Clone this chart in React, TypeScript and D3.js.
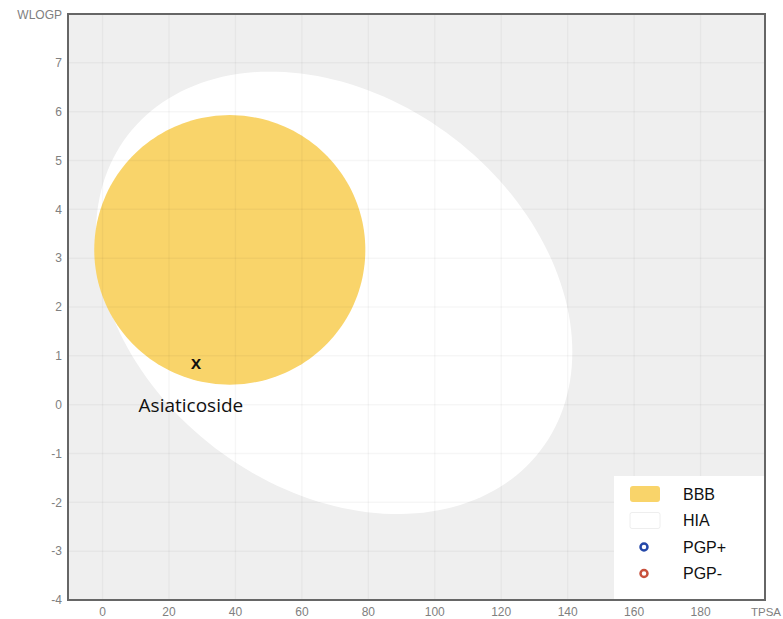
import { useRef, useEffect } from 'react'
import * as d3 from 'd3'

// axis ticks
const xTicks = [0, 20, 40, 60, 80, 100, 120, 140, 160, 180]
const yTicks = [-4, -3, -2, -1, 0, 1, 2, 3, 4, 5, 6, 7]
const xDomain: [number, number] = [-10.4, 199.4]
const yDomain: [number, number] = [-4, 8]

// egg regions: [center TPSA, center WLOGP, half width (TPSA), half height (WLOGP), WLOGP shift at right edge]
const hiaEllipse = [69.7, 2.29, 71.7, 4.53, -1.21]
const bbbEllipse = [38.3, 3.17, 40.8, 2.76, 0]

// compound marked on the plot
const compoundNames = ["Asiaticoside"]
const compoundTpsa = [28.1]
const compoundWlogp = [0.83]

const legendLabels = ["BBB", "HIA", "PGP+", "PGP-"]

function ellipsePoints(e: number[]): [number, number][] {
  const [cx, cy, hw, hh, k] = e
  const m = Math.sqrt(hh * hh - k * k)
  return d3.range(0, 360, 2).map(deg => {
    const t = (deg * Math.PI) / 180
    return [cx + hw * Math.cos(t), cy + k * Math.cos(t) + m * Math.sin(t)] as [number, number]
  })
}

export default function App() {
  const svgRef = useRef<SVGSVGElement>(null)
  const width = 783
  const height = 619
  const margin = { top: 14, right: 18, bottom: 19, left: 68 }

  useEffect(() => {
    if (!svgRef.current) return
    const svg = d3.select(svgRef.current)
    svg.selectAll("*").remove()

    const innerWidth = width - margin.left - margin.right
    const innerHeight = height - margin.top - margin.bottom

    const x = d3.scaleLinear().domain(xDomain).range([0, innerWidth])
    const y = d3.scaleLinear().domain(yDomain).range([innerHeight, 0])

    const g = svg.append("g").attr("transform", `translate(${margin.left},${margin.top})`)

    // plot background
    g.append("rect")
      .attr("width", innerWidth)
      .attr("height", innerHeight)
      .attr("fill", "#efefef")

    const line = d3.line<[number, number]>()
      .x(d => x(d[0]))
      .y(d => y(d[1]))
      .curve(d3.curveLinearClosed)

    // HIA (white) and BBB (yolk)
    g.append("path").attr("d", line(ellipsePoints(hiaEllipse))).attr("fill", "#ffffff")
    g.append("path").attr("d", line(ellipsePoints(bbbEllipse))).attr("fill", "#f9d46a")

    // grid lines on top
    g.append("g")
      .selectAll("line")
      .data(xTicks)
      .enter()
      .append("line")
      .attr("x1", d => x(d))
      .attr("x2", d => x(d))
      .attr("y1", 0)
      .attr("y2", innerHeight)
      .attr("stroke", "#000")
      .attr("stroke-opacity", 0.035)
      .attr("stroke-width", 1.5)

    g.append("g")
      .selectAll("line")
      .data(yTicks)
      .enter()
      .append("line")
      .attr("x1", 0)
      .attr("x2", innerWidth)
      .attr("y1", d => y(d))
      .attr("y2", d => y(d))
      .attr("stroke", "#000")
      .attr("stroke-opacity", 0.035)
      .attr("stroke-width", 1.5)

    // compound marker
    compoundNames.forEach((name, i) => {
      g.append("text")
        .attr("x", x(compoundTpsa[i]))
        .attr("y", y(compoundWlogp[i]))
        .attr("dy", "0.35em")
        .attr("text-anchor", "middle")
        .attr("font-family", "'Open Sans', sans-serif")
        .attr("font-weight", "bold")
        .attr("font-size", 15)
        .attr("fill", "#111")
        .text("X")
      g.append("text")
        .attr("x", x(compoundTpsa[i]) - 5)
        .attr("y", y(compoundWlogp[i]) + 48)
        .attr("text-anchor", "middle")
        .attr("font-family", "'Open Sans', sans-serif")
        .attr("font-size", 19)
        .attr("fill", "#111")
        .text(name)
    })

    // legend
    const legend = g.append("g").attr("transform", `translate(${innerWidth - 151},${innerHeight - 124})`)
    legend.append("rect").attr("width", 151).attr("height", 124).attr("fill", "#fff")
    legendLabels.forEach((label, i) => {
      const cy = 18 + i * 26.5
      if (i === 0) {
        legend.append("rect").attr("x", 16).attr("y", cy - 8).attr("width", 30).attr("height", 16)
          .attr("rx", 3).attr("fill", "#f9d46a")
      } else if (i === 1) {
        legend.append("rect").attr("x", 16).attr("y", cy - 8).attr("width", 30).attr("height", 16)
          .attr("rx", 2).attr("fill", "#fff").attr("stroke", "#eee")
      } else {
        legend.append("circle").attr("cx", 30).attr("cy", cy).attr("r", 3.5)
          .attr("fill", "#fff").attr("stroke-width", 2.5)
          .attr("stroke", i === 2 ? "#2447a8" : "#c8503c")
      }
      legend.append("text")
        .attr("x", 69)
        .attr("y", cy)
        .attr("dy", "0.35em")
        .attr("font-family", "'Liberation Sans', Arial, sans-serif")
        .attr("font-size", 16)
        .attr("fill", "#111")
        .text(label)
    })

    // frame
    g.append("rect")
      .attr("width", innerWidth)
      .attr("height", innerHeight)
      .attr("fill", "none")
      .attr("stroke", "#666")
      .attr("stroke-width", 2)

    // tick labels
    g.append("g")
      .selectAll("text")
      .data(xTicks)
      .enter()
      .append("text")
      .attr("x", d => x(d))
      .attr("y", innerHeight + 16)
      .attr("text-anchor", "middle")
      .attr("font-family", "'Liberation Sans', Arial, sans-serif")
      .attr("font-size", 12)
      .attr("fill", "#808080")
      .text(d => d)

    g.append("g")
      .selectAll("text")
      .data(yTicks)
      .enter()
      .append("text")
      .attr("x", -6)
      .attr("y", d => y(d))
      .attr("dy", "0.35em")
      .attr("text-anchor", "end")
      .attr("font-family", "'Liberation Sans', Arial, sans-serif")
      .attr("font-size", 12)
      .attr("fill", "#808080")
      .text(d => d)

    // axis titles
    g.append("text")
      .attr("x", width - margin.left - 2)
      .attr("y", innerHeight + 16)
      .attr("text-anchor", "end")
      .attr("font-family", "'Liberation Sans', Arial, sans-serif")
      .attr("font-size", 11.5)
      .attr("fill", "#808080")
      .text("TPSA")
    g.append("text")
      .attr("x", -6)
      .attr("y", 1)
      .attr("dy", "0.35em")
      .attr("text-anchor", "end")
      .attr("font-family", "'Liberation Sans', Arial, sans-serif")
      .attr("font-size", 12)
      .attr("fill", "#808080")
      .text("WLOGP")
  }, [])

  return (
    <svg
      ref={svgRef}
      width={width}
      height={height}
      style={{ position: 'absolute', left: 0, top: 0, background: '#fff' }}
    />
  )
}
